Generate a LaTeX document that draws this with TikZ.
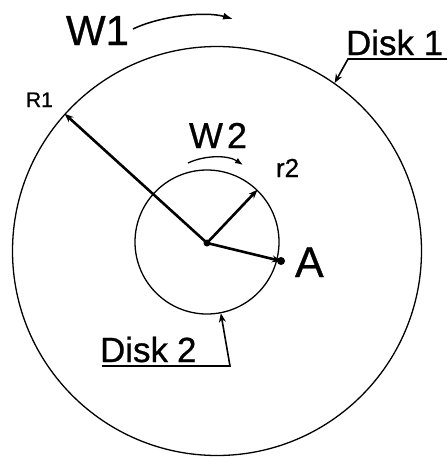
\documentclass[tikz,border=0pt]{standalone}
\usepackage{fontspec}
\setmainfont{Liberation Sans}[FakeBold=0.7]
\usetikzlibrary{arrows.meta}
\tikzset{
  disk/.style={circle,draw,line width=1.3pt,inner sep=0pt},
  radius arrow/.style={line width=2.6pt,-{Stealth[length=9pt,width=7pt]}},
  pointer/.style={line width=1.6pt,-{Stealth[length=9pt,width=7pt]}},
  spin/.style={line width=1.5pt,-{Latex[length=10pt,width=7pt]}},
  lbl/.style={anchor=base west,inner sep=0pt,outer sep=0pt},
  dot/.style={circle,fill,inner sep=0pt},
}
\newcommand{\fsz}[1]{\fontsize{#1}{#1}\selectfont}
\begin{document}
\begin{tikzpicture}[x=1pt,y=-1pt]
\useasboundingbox (0,0) rectangle (447,458);
% disks
\node[disk,minimum size=409pt] (disk1) at (217,251) {};
\node[disk,minimum size=144pt] (disk2) at (207,242) {};
\node[dot,minimum size=7pt] (o) at (207,243) {};
\node[dot,minimum size=8pt] (adot) at (281,261) {};
% labels
\node[lbl,font=\fsz{42}] (w1) at (66,45) {W1};
\node[lbl,font=\fsz{35}] (d1) at (346,55) {Disk 1};
\node[lbl,font=\fsz{21}] (r1) at (26,107) {R1};
\node[lbl,font=\fsz{36}] (w2) at (189,148) {W\kern4pt2};
\node[lbl,font=\fsz{26}] (r2) at (276,177) {r2};
\node[lbl,font=\fsz{43}] (a) at (295,277) {A};
\node[lbl,font=\fsz{35}] (d2) at (100,362) {Disk\kern9pt2};
% radii
\draw[radius arrow] (o.center) -- (disk1.138.6);
\draw[radius arrow] (o.center) -- (disk2.46);
\draw[radius arrow] (o.center) -- (adot.center);
% pointers with underlines
\coordinate (u1a) at (447,59);
\coordinate (u1b) at (348,59);
\draw[pointer] (u1a) -- (u1b) -- (disk1.55.5);
\coordinate (u2a) at (102,366);
\coordinate (u2b) at (230,366);
\draw[pointer] (u2a) -- (u2b) -- (disk2.-79);
% rotation arrows
\coordinate (s1) at (133,29);
\coordinate (e1) at (233,19);
\draw[spin] (s1) .. controls (160,16) and (205,11) .. (e1);
\coordinate (s2) at (188,163);
\coordinate (e2) at (243,165);
\draw[spin,line width=1.3pt,-{Latex[length=8pt,width=6pt]}] (s2) .. controls (205,155) and (228,155) .. (e2);
\end{tikzpicture}
\end{document}
